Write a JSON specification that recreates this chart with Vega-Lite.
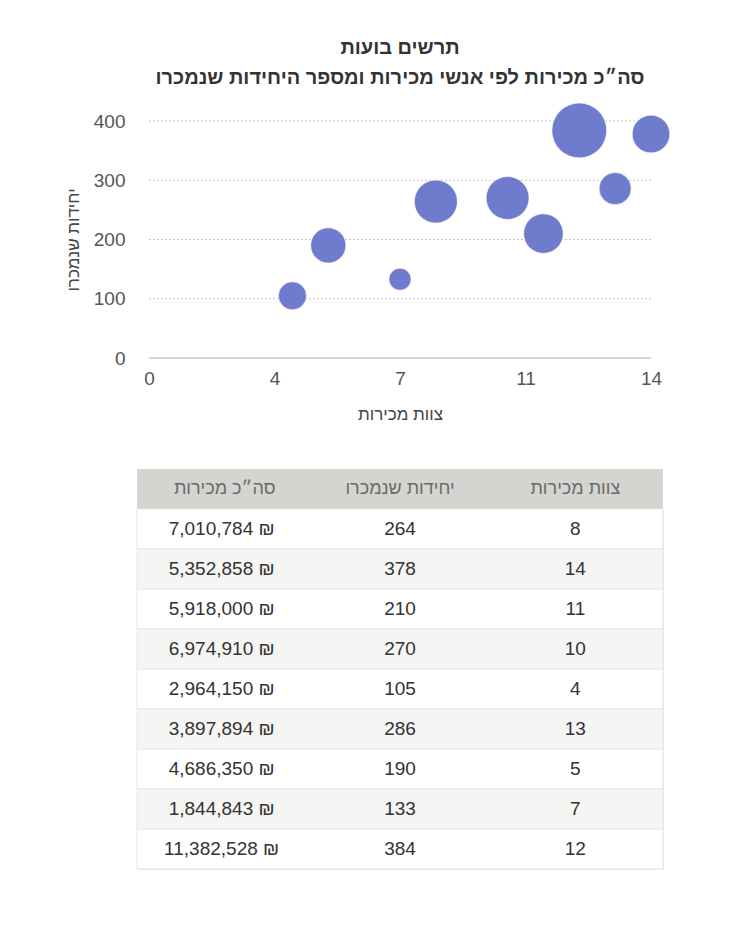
{
  "$schema": "https://vega.github.io/schema/vega-lite/v6.json",
  "background": "white",
  "padding": {"left": 64, "top": 38, "right": 5, "bottom": 5},
  "datasets": {
    "sales": [
      {"team": 8, "units": 264, "sales": 7010784},
      {"team": 14, "units": 378, "sales": 5352858},
      {"team": 11, "units": 210, "sales": 5918000},
      {"team": 10, "units": 270, "sales": 6974910},
      {"team": 4, "units": 105, "sales": 2964150},
      {"team": 13, "units": 286, "sales": 3897894},
      {"team": 5, "units": 190, "sales": 4686350},
      {"team": 7, "units": 133, "sales": 1844843},
      {"team": 12, "units": 384, "sales": 11382528}
    ],
    "grid": [{"units": 100}, {"units": 200}, {"units": 300}, {"units": 400}],
    "headers": [
      {"col": "sales", "label": "סה״כ מכירות"},
      {"col": "units", "label": "יחידות שנמכרו"},
      {"col": "team", "label": "צוות מכירות"}
    ]
  },
  "bounds": "flush",
  "spacing": 111,
  "vconcat": [
    {
      "width": 526,
      "height": 237,
      "view": {"stroke": null},
      "title": {
        "text": "תרשים בועות",
        "subtitle": "סה״כ מכירות לפי אנשי מכירות ומספר היחידות שנמכרו",
        "anchor": "middle",
        "frame": "group",
        "font": "Liberation Sans",
        "subtitleFont": "Liberation Sans",
        "fontSize": 20,
        "subtitleFontSize": 20,
        "fontWeight": "bold",
        "subtitleFontWeight": "bold",
        "color": "#333333",
        "subtitleColor": "#333333",
        "subtitlePadding": 10,
        "offset": 13
      },
      "layer": [
        {
          "data": {"name": "grid"},
          "mark": {"type": "rule", "color": "#c4c4c4", "strokeDash": [2, 2], "strokeWidth": 1},
          "encoding": {
            "y": {"field": "units", "type": "quantitative"},
            "x": {"datum": 0, "type": "quantitative"},
            "x2": {"datum": 14}
          }
        },
        {
          "data": {"values": [{"units": 0}]},
          "mark": {"type": "rule", "color": "#c8c8c8", "strokeWidth": 1.5},
          "encoding": {
            "y": {"field": "units", "type": "quantitative"},
            "x": {"datum": 0, "type": "quantitative"},
            "x2": {"datum": 14}
          }
        },
        {
          "data": {"name": "sales"},
          "mark": {"type": "circle", "opacity": 1, "color": "#6f7bcc", "stroke": "#ffffff", "strokeWidth": 0.8, "strokeOpacity": 0.7},
          "encoding": {
            "x": {
              "field": "team",
              "type": "quantitative",
              "scale": {"domain": [0, 14], "padding": 12, "nice": false},
              "axis": {
                "values": [0, 3.5, 7, 10.5, 14],
                "format": ".0f",
                "title": "צוות מכירות",
                "grid": false,
                "domain": false,
                "ticks": false,
                "labelFlush": false,
                "labelPadding": 11,
                "titlePadding": 18
              }
            },
            "y": {
              "field": "units",
              "type": "quantitative",
              "scale": {"domain": [0, 400], "nice": false},
              "axis": {
                "values": [0, 100, 200, 300, 400],
                "title": "יחידות שנמכרו",
                "grid": false,
                "domain": false,
                "ticks": false,
                "labelPadding": 12,
                "titlePadding": 11
              }
            },
            "size": {
              "field": "sales",
              "type": "quantitative",
              "scale": {"domain": [0, 11382528], "range": [0, 3000]},
              "legend": null
            }
          }
        }
      ]
    },
    {
      "bounds": "flush",
      "spacing": 0,
      "vconcat": [
        {
          "width": 526,
          "height": 40,
          "data": {"name": "headers"},
          "view": {"fill": "#d4d4d0", "stroke": null},
          "mark": {"type": "text", "fontSize": 18, "color": "#6a6a6a", "font": "Liberation Sans"},
          "encoding": {
            "x": {
              "field": "col",
              "type": "nominal",
              "scale": {"domain": ["sales", "units", "team"], "paddingInner": 0, "paddingOuter": 0},
              "axis": null
            },
            "text": {"field": "label"}
          }
        },
        {
          "width": 526,
          "height": 360,
          "data": {"name": "sales"},
          "transform": [{"window": [{"op": "row_number", "as": "idx"}]}],
          "view": {"stroke": "#e4e4e4"},
          "encoding": {
            "y": {"field": "idx", "type": "ordinal", "scale": {"paddingInner": 0, "paddingOuter": 0}, "axis": null}
          },
          "layer": [
            {
              "mark": {"type": "rect", "stroke": "#e8e8e8", "strokeWidth": 1},
              "encoding": {
                "fill": {"condition": {"test": "datum.idx % 2 == 0", "value": "#f5f5f4"}, "value": "#ffffff"}
              }
            },
            {
              "mark": {"type": "text", "fontSize": 19, "color": "#333333", "font": "Liberation Sans"},
              "encoding": {
                "x": {"datum": "team", "type": "nominal", "scale": {"domain": ["sales", "units", "team"], "paddingInner": 0, "paddingOuter": 0}, "axis": null},
                "text": {"field": "team", "type": "quantitative"}
              }
            },
            {
              "mark": {"type": "text", "fontSize": 19, "color": "#333333", "font": "Liberation Sans"},
              "encoding": {
                "x": {"datum": "units", "type": "nominal"},
                "text": {"field": "units", "type": "quantitative"}
              }
            },
            {
              "mark": {"type": "text", "fontSize": 19, "color": "#333333", "font": "Liberation Sans", "dx": -3},
              "encoding": {
                "x": {"datum": "sales", "type": "nominal"},
                "text": {"field": "sales", "type": "quantitative", "format": "$,.0f"}
              }
            }
          ]
        }
      ]
    }
  ],
  "config": {
    "font": "Liberation Sans",
    "locale": {
      "number": {"decimal": ".", "thousands": ",", "grouping": [3], "currency": ["", " ₪"]}
    },
    "axis": {
      "labelFont": "Liberation Sans",
      "labelFontSize": 19,
      "labelColor": "#555555",
      "titleFont": "Liberation Sans",
      "titleFontSize": 17,
      "titleFontWeight": "normal",
      "titleColor": "#444444"
    }
  }
}
